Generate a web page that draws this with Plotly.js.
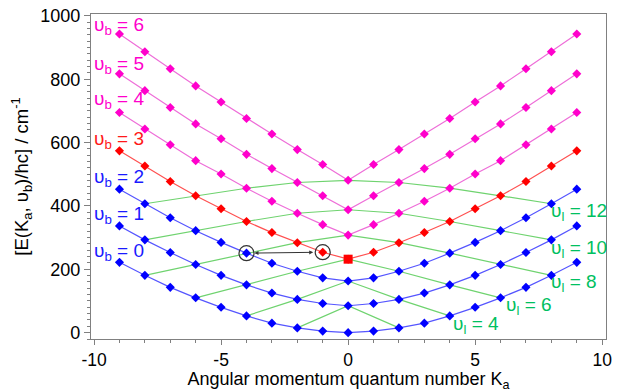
<!DOCTYPE html>
<html>
<head>
<meta charset="utf-8">
<script src="https://cdn.plot.ly/plotly-3.0.1.min.js"></script>
<style>html,body{margin:0;padding:0;background:#fff;}#chart{width:620px;height:392px;}</style>
</head>
<body>
<div id="chart"></div>
<script>
// Angular momentum quantum number Ka
const Ka = [-9,-8,-7,-6,-5,-4,-3,-2,-1,0,1,2,3,4,5,6,7,8,9];
// Energies (cm^-1) for each bending quantum number vb
const E_vb0 = [222,181,143,110,80,53,30,15,5,0,5,15,30,53,80,110,143,181,222];
const E_vb1 = [337,293,253,215,181,151,125,105,92,85,92,105,125,151,181,215,253,293,337];
const E_vb2 = [453,407,363,322,285,251,219,194,173,163,173,194,219,251,285,322,363,407,453];
const E_vb3 = [574,526,477,432,391,351,316,284,254,232,254,284,316,351,391,432,477,526,574];
const E_vb4 = [695,643,593,543,501,456,415,377,341,308,341,377,415,456,501,543,593,643,695];
const E_vb5 = [817,764,711,659,612,563,518,474,432,388,432,474,518,563,612,659,711,764,817];
const E_vb6 = [943,887,833,779,728,676,627,578,531,481,531,578,627,676,728,779,833,887,943];
const vbLabels = ["υ<sub>b</sub> = 0","υ<sub>b</sub> = 1","υ<sub>b</sub> = 2","υ<sub>b</sub> = 3","υ<sub>b</sub> = 4","υ<sub>b</sub> = 5","υ<sub>b</sub> = 6"];
const vbLabelY = [256,371,489,608,735,845,968];
// constant υl lines (even values)
const vl = [2,4,6,8,10,12];
const vlLabels = ["υ<sub>l</sub> = 4","υ<sub>l</sub> = 6","υ<sub>l</sub> = 8","υ<sub>l</sub> = 10","υ<sub>l</sub> = 12"];
const vlLabelX = [4.05,6.15,7.9,7.9,7.9];
const vlLabelY = [23,84,157,263,382];
// axis ticks
const xTickVals = [-10,-5,0,5,10];
const xTickText = ["-10","-5","0","5","10"];
const yTickVals = [0,200,400,600,800,1000];
const yTickText = ["0","200","400","600","800","1000"];
// highlighted transition (Ka, vb)
const hlKa = [-4,-1];
const hlVb = [2,3];

const E = [E_vb0,E_vb1,E_vb2,E_vb3,E_vb4,E_vb5,E_vb6];
const markerCol = ['#0000ff','#0000ff','#0000ff','#ff0000','#ff00cc','#ff00cc','#ff00cc'];
const lineCol = ['#5555ff','#5555ff','#5555ff','#ff5050','#ee6ed8','#ee6ed8','#ee6ed8'];
const labelCol = ['#1a1aff','#1a1aff','#1a1aff','#ff1a1a','#ff00cc','#ff00cc','#ff00cc'];
const green = '#6fd36f';
const FONT = 'Liberation Sans, Arial, sans-serif';

const traces = [];
vl.forEach(v => {
  const xs = [], ys = [];
  for (let k = -8; k <= 8; k += 2) {
    const b = (v - Math.abs(k)) / 2;
    if (b >= 0 && b <= 6 && Number.isInteger(b)) {
      xs.push(k); ys.push(E[b][Ka.indexOf(k)]);
    }
  }
  traces.push({x: xs, y: ys, mode: 'lines', line: {color: green, width: 1.2}, hoverinfo: 'skip', showlegend: false});
});
E.forEach((arr, b) => {
  traces.push({x: Ka, y: arr, mode: 'lines+markers', line: {color: lineCol[b], width: 1.2},
    marker: {symbol: 'diamond', size: 7, color: markerCol[b]}, showlegend: false});
});
traces.push({x: [0], y: [E_vb3[Ka.indexOf(0)]], mode: 'markers', marker: {symbol: 'square', size: 9, color: '#ff0000'}, showlegend: false});
traces.push({x: hlKa, y: hlKa.map((k,i) => E[hlVb[i]][Ka.indexOf(k)]), mode: 'markers',
  marker: {symbol: 'circle-open', size: 15, color: '#333333', line: {width: 1.2}}, showlegend: false});

const annotations = [];
vbLabels.forEach((t, b) => {
  annotations.push({xref: 'paper', yref: 'y', x: 0.002, y: vbLabelY[b], xanchor: 'left', yanchor: 'middle',
    text: t, showarrow: false, font: {family: FONT, size: 19, color: labelCol[b]}});
});
vlLabels.forEach((t, i) => {
  annotations.push({xref: 'x', yref: 'y', x: vlLabelX[i], y: vlLabelY[i], xanchor: 'left', yanchor: 'middle',
    text: t, showarrow: false, font: {family: FONT, size: 19, color: '#00c060'}});
});
annotations.push({xref: 'x', yref: 'y', axref: 'x', ayref: 'y',
  x: hlKa[0], y: E[hlVb[0]][Ka.indexOf(hlKa[0])],
  ax: hlKa[1], ay: E[hlVb[1]][Ka.indexOf(hlKa[1])],
  showarrow: true, arrowhead: 2, startarrowhead: 2, arrowside: 'end+start', arrowsize: 0.8, arrowwidth: 1,
  arrowcolor: '#333333', standoff: 8, startstandoff: 8, text: ''});

const layout = {
  width: 620, height: 392,
  margin: {l: 91, r: 14, t: 14, b: 53},
  paper_bgcolor: '#ffffff', plot_bgcolor: '#ffffff',
  font: {family: FONT, size: 18, color: '#000'},
  xaxis: {
    range: [-10.12, 10.15], tickvals: xTickVals, ticktext: xTickText, ticks: 'outside', ticklen: 5, tickcolor: '#808080',
    showline: true, linecolor: '#808080', linewidth: 1.2, mirror: true, showgrid: false, zeroline: false,
    minor: {dtick: 1, tick0: 0, ticks: 'outside', ticklen: 3, tickcolor: '#808080', showgrid: false},
    tickfont: {size: 17.5}, title: {text: 'Angular momentum quantum number K<sub>a</sub>', font: {size: 18}, standoff: 3}
  },
  yaxis: {
    range: [-20, 1006], tickvals: yTickVals, ticktext: yTickText, ticks: 'outside', ticklen: 6, tickcolor: '#808080',
    showline: true, linecolor: '#808080', linewidth: 1.2, mirror: true, showgrid: false, zeroline: false,
    minor: {dtick: 20, tick0: 0, ticks: 'outside', ticklen: 3, tickcolor: '#808080', showgrid: false},
    tickfont: {size: 18}, title: {text: '[E(K<sub>a</sub>, υ<sub>b</sub>)/hc] / cm<sup>-1</sup>', font: {size: 18.5}, standoff: 6}
  },
  annotations: annotations
};
Plotly.newPlot('chart', traces, layout, {displayModeBar: false, staticPlot: true});
</script>
</body>
</html>
